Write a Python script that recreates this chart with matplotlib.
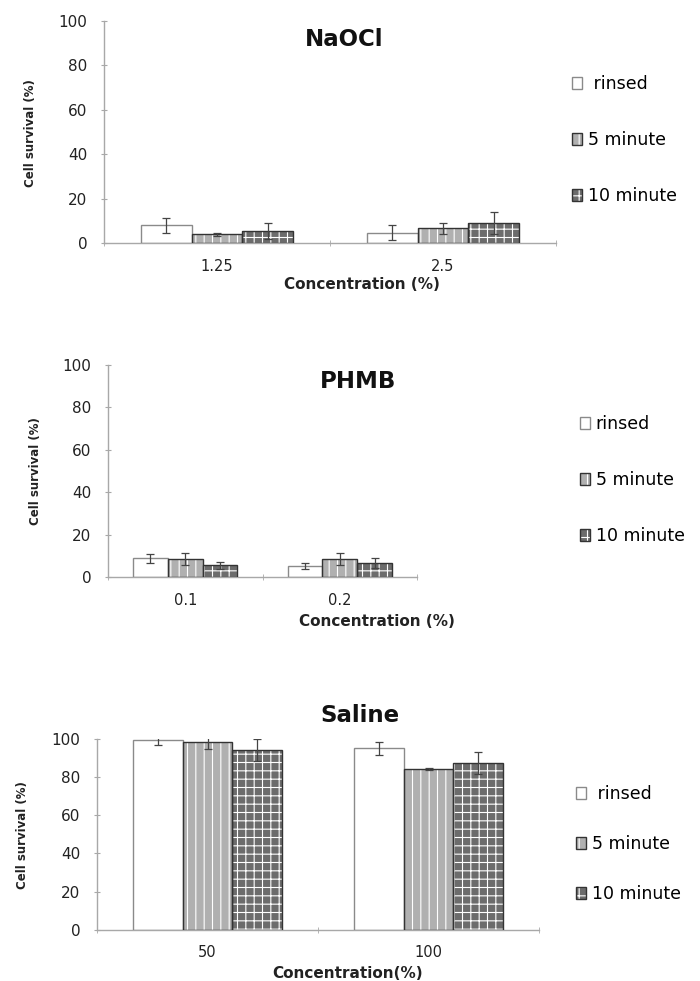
import numpy as np
import matplotlib.pyplot as plt
from matplotlib.patches import Patch

plt.rcParams['font.family'] = ['DejaVu Sans']
plt.rcParams['hatch.color'] = 'white'
plt.rcParams['hatch.linewidth'] = 0.8

# data
naocl_series = [' rinsed', '5 minute', '10 minute']
naocl_conc = ['1.25', '2.5']
naocl_mean = [[8.0, 4.8], [4.0, 6.7], [5.7, 9.0]]
naocl_err = [[3.4, 3.2], [0.5, 2.6], [3.6, 4.9]]

phmb_series = ['rinsed', '5 minute', '10 minute']
phmb_conc = ['0.1', '0.2']
phmb_mean = [[8.9, 5.5], [8.5, 8.5], [5.6, 6.9]]
phmb_err = [[2.0, 1.4], [2.8, 2.8], [1.5, 2.4]]

saline_series = [' rinsed', '5 minute', '10 minute']
saline_conc = ['50', '100']
saline_mean = [[99.3, 95.0], [98.1, 84.3], [94.1, 87.1]]
saline_err = [[2.8, 3.4], [3.5, 0.5], [6.0, 5.8]]

# bar looks
faces = ['white', '#b0b0b0', '#6c6c6c']
hatches = [None, '||', '++']
grey = '#a8a8a8'
W, H = 700, 981


def fx(px):
    return px / W


def fy(py):
    return 1 - py / H


def panel(box, title, title_xy, series, conc, mean, err, xlabel, xlab_xy,
          ylab_xy, leg_xy, leg_space):
    left, top, right, bottom = box
    ax = fig.add_axes([fx(left), fy(bottom), fx(right - left), (bottom - top) / H])
    x = np.arange(len(conc))
    w = 0.225
    handles = []
    for i in range(3):
        pos = x + (i - 1) * w
        ax.bar(pos, mean[i], w, color=faces[i], hatch=hatches[i], linewidth=0, zorder=2)
        ec = '#8a8a8a' if i == 0 else '#333333'
        ax.bar(pos, mean[i], w, fill=False, edgecolor=ec, linewidth=1.0, zorder=3)
        ax.errorbar(pos, mean[i], yerr=err[i], fmt='none', ecolor='#444444',
                    elinewidth=0.9, capsize=3, capthick=0.9, zorder=4)
        p1 = Patch(facecolor=faces[i], hatch=hatches[i], linewidth=0)
        p2 = Patch(fill=False, edgecolor=ec, linewidth=1.0)
        handles.append((p1, p2))

    ax.set_xlim(-0.5, len(conc) - 0.5)
    ax.set_ylim(0, 100)
    ax.set_xticks(x)
    ax.set_xticklabels(conc)
    ax.set_xticks(np.arange(len(conc) + 1) - 0.5, minor=True)
    ax.set_yticks(np.arange(0, 101, 20))
    ax.tick_params(axis='x', which='major', length=0, pad=11, labelsize=10.5, labelcolor='#222222')
    ax.tick_params(axis='x', which='minor', length=4, color=grey, direction='inout')
    ax.tick_params(axis='y', length=4, color=grey, direction='inout', pad=10,
                   labelsize=11, labelcolor='#222222')
    for s in ['top', 'right']:
        ax.spines[s].set_visible(False)
    for s in ['left', 'bottom']:
        ax.spines[s].set_color(grey)
        ax.spines[s].set_linewidth(1.0)

    fig.text(fx(title_xy[0]), fy(title_xy[1]), title, ha='center', va='center',
             fontsize=16.5, fontweight='bold', color='#111111')
    fig.text(fx(xlab_xy[0]), fy(xlab_xy[1]), xlabel, ha='center', va='center',
             fontsize=11, fontweight='bold', color='#222222')
    fig.text(fx(ylab_xy[0]), fy(ylab_xy[1]), 'Cell survival (%)', ha='center',
             va='center', rotation=90, fontsize=8.5, fontweight='bold', color='#222222')

    ax.legend(handles, series, loc='upper left', bbox_to_anchor=(fx(leg_xy[0]), fy(leg_xy[1])),
              bbox_transform=fig.transFigure, frameon=False, fontsize=12.5,
              handlelength=0.6, handleheight=0.7, handletextpad=0.3,
              labelspacing=leg_space, borderpad=0, borderaxespad=0)
    return ax


fig = plt.figure(figsize=(7, 9.81), dpi=100)

panel((104, 20.7, 556, 243.3), 'NaOCl', (344, 39), naocl_series, naocl_conc,
      naocl_mean, naocl_err, 'Concentration (%)', (362, 284), (31, 133),
      (572, 75), 2.2)
panel((108, 365, 417, 577.3), 'PHMB', (358, 382), phmb_series, phmb_conc,
      phmb_mean, phmb_err, 'Concentration (%)', (377, 621), (35, 471),
      (580, 415), 2.2)
panel((97, 738.7, 539, 930), 'Saline', (360, 716), saline_series, saline_conc,
      saline_mean, saline_err, 'Concentration(%)', (348, 973), (23, 835),
      (576, 785), 1.85)

fig.savefig('out.png', dpi=100)
